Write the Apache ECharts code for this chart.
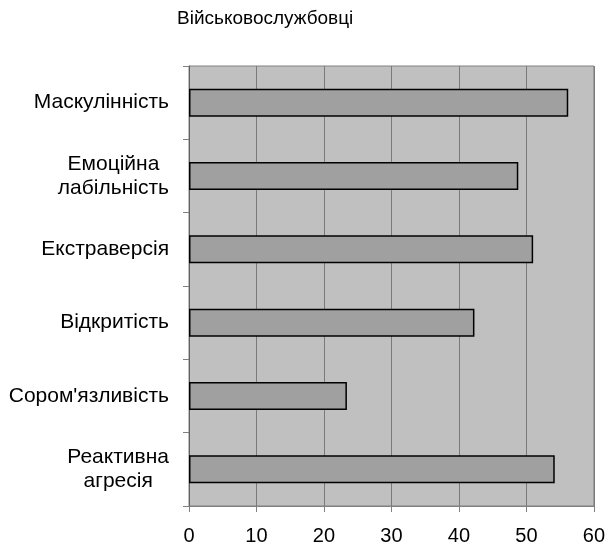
<!DOCTYPE html>
<html>
<head>
<meta charset="utf-8">
<script src="https://cdn.jsdelivr.net/npm/echarts@6/dist/echarts.min.js"></script>
<style>html,body{margin:0;padding:0;background:#fff}#c{width:608px;height:548px}</style>
</head>
<body>
<div id="c"></div>
<script>
const title = 'Військовослужбовці';
const categories = ['Маскулінність', 'Емоційна\nлабільність', 'Екстраверсія', 'Відкритість', 'Сором\'язливість', 'Реактивна\nагресія'];
const values = [56.2, 48.8, 51.0, 42.3, 23.4, 54.2];
const xTicks = [0, 10, 20, 30, 40, 50, 60];

const chart = echarts.init(document.getElementById('c'), null, {renderer: 'canvas'});
const font = 'Liberation Sans, Arial, sans-serif';
chart.setOption({
  animation: false,
  backgroundColor: '#ffffff',
  title: {
    text: title, left: 172, top: 4,
    textStyle: {fontFamily: font, fontSize: 19, fontWeight: 'normal', color: '#000'}
  },
  grid: {
    left: 189, right: 13, top: 66, bottom: 42,
    show: true, backgroundColor: '#c0c0c0', borderColor: '#808080', borderWidth: 1
  },
  xAxis: {
    type: 'value', min: xTicks[0], max: xTicks[xTicks.length - 1], interval: 10,
    axisLine: {show: true, lineStyle: {color: '#808080', width: 1}},
    axisTick: {show: true, length: 6, lineStyle: {color: '#808080'}},
    splitLine: {show: true, lineStyle: {color: '#7a7a7a', width: 1}},
    axisLabel: {fontFamily: font, fontSize: 20, color: '#000', margin: 20}
  },
  yAxis: {
    type: 'category', data: categories, inverse: true,
    axisLine: {show: true, lineStyle: {color: '#606060', width: 1}},
    axisTick: {show: true, length: 6, lineStyle: {color: '#808080'}},
    axisLabel: {
      fontFamily: font, fontSize: 22, color: '#000', margin: 20, lineHeight: 24,
      formatter: v => v.split('\n').map(s => '{c|' + s + '}').join('\n'),
      rich: {c: {align: 'center', fontFamily: font, fontSize: 21, lineHeight: 24, color: '#000'}}
    }
  },
  series: [{
    type: 'bar', data: values, barWidth: 28,
    itemStyle: {color: '#a0a0a0', borderColor: '#000', borderWidth: 1.5}
  }]
});
</script>
</body>
</html>
